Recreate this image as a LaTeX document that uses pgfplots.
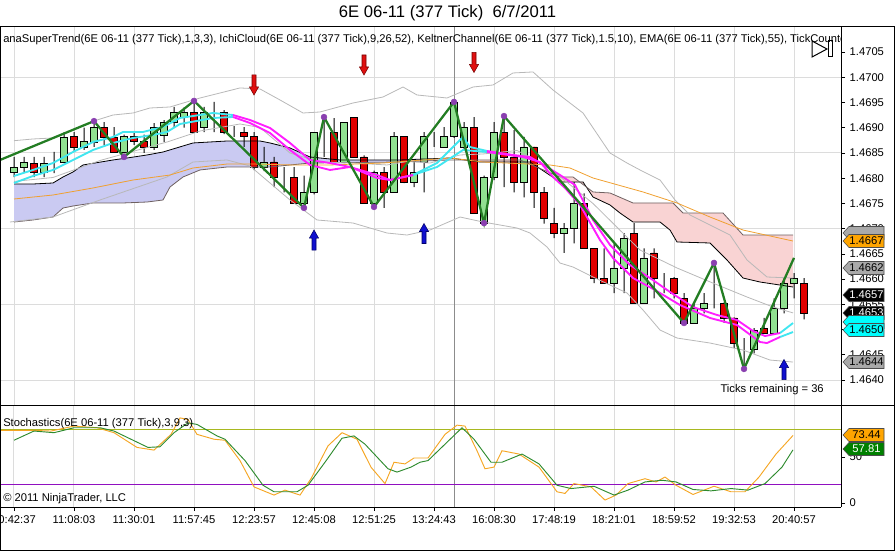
\documentclass[border=0pt]{standalone}
\usepackage{fontspec}
\setmainfont{Liberation Sans}
\usepackage{pgfplots}
\pgfplotsset{compat=1.18}
\usepackage{pgfplotstable}

\definecolor{gridc}{HTML}{DCDCDC}
\definecolor{cgreen}{HTML}{90E090}
\definecolor{cred}{HTML}{E00000}
\definecolor{zz}{HTML}{237D23}
\definecolor{cyanst}{HTML}{40E6F0}
\definecolor{magst}{HTML}{FF1EFF}
\definecolor{dotc}{HTML}{8A3FB0}
\definecolor{kelt}{HTML}{B8B8B8}
\definecolor{ema}{HTML}{F0A030}
\definecolor{lav}{HTML}{CACAF2}
\definecolor{pinkc}{HTML}{F9D3D3}
\definecolor{spanBc}{HTML}{6E6060}
\definecolor{stK}{HTML}{F5A623}
\definecolor{stD}{HTML}{2E8B2E}
\definecolor{obl}{HTML}{A8B820}
\definecolor{osl}{HTML}{9010C0}
\definecolor{tagorange}{HTML}{FFA500}
\definecolor{taggray}{HTML}{A9A9A9}
\definecolor{tagcyan}{HTML}{00FFFF}
\definecolor{taggreen}{HTML}{008000}
\definecolor{arrred}{HTML}{E01010}
\definecolor{arrblue}{HTML}{1010D0}

\pgfdeclareplotmark{dnarrow}{%
  \pgfpathmoveto{\pgfqpoint{-1.5pt}{7.5pt}}%
  \pgfpathlineto{\pgfqpoint{1.5pt}{7.5pt}}%
  \pgfpathlineto{\pgfqpoint{1.5pt}{-1.5pt}}%
  \pgfpathlineto{\pgfqpoint{3.4pt}{-1.5pt}}%
  \pgfpathlineto{\pgfqpoint{0pt}{-7.5pt}}%
  \pgfpathlineto{\pgfqpoint{-3.4pt}{-1.5pt}}%
  \pgfpathlineto{\pgfqpoint{-1.5pt}{-1.5pt}}%
  \pgfpathclose
  \pgfusepathqfillstroke
}
\pgfdeclareplotmark{uparrow}{%
  \pgfpathmoveto{\pgfqpoint{-1.5pt}{-7.5pt}}%
  \pgfpathlineto{\pgfqpoint{1.5pt}{-7.5pt}}%
  \pgfpathlineto{\pgfqpoint{1.5pt}{1.5pt}}%
  \pgfpathlineto{\pgfqpoint{3.4pt}{1.5pt}}%
  \pgfpathlineto{\pgfqpoint{0pt}{7.5pt}}%
  \pgfpathlineto{\pgfqpoint{-3.4pt}{1.5pt}}%
  \pgfpathlineto{\pgfqpoint{-1.5pt}{1.5pt}}%
  \pgfpathclose
  \pgfusepathqfillstroke
}

\newcommand\sm{\fontsize{8.4}{10}\selectfont}

\pgfplotsset{
  mainax/.style={scale only axis, width=630.75pt, height=283.5pt,
    at={(0pt,-303.75pt)}, anchor=south west,
    xmin=-1.4, xmax=82.7, ymin=1.463505, ymax=1.470995, enlargelimits=false},
}

\pgfplotstableread{
i O H L C
0 1.46811 1.46842 1.46802 1.46821
1 1.46821 1.46842 1.46812 1.46831
2 1.46830 1.46842 1.46802 1.46811
3 1.46812 1.46842 1.46802 1.46830
4 1.46825 1.46852 1.46810 1.46825
5 1.46831 1.46891 1.46830 1.46881
6 1.46882 1.46891 1.46852 1.46862
7 1.46862 1.46900 1.46856 1.46872
8 1.46870 1.46913 1.46862 1.46901
9 1.46901 1.46911 1.46866 1.46881
10 1.46880 1.46901 1.46850 1.46852
11 1.46852 1.46886 1.46842 1.46882
12 1.46882 1.46891 1.46866 1.46872
13 1.46872 1.46886 1.46850 1.46862
14 1.46862 1.46909 1.46856 1.46901
15 1.46885 1.46915 1.46872 1.46911
16 1.46911 1.46941 1.46901 1.46931
17 1.46921 1.46940 1.46900 1.46931
18 1.46931 1.46953 1.46890 1.46891
19 1.46901 1.46941 1.46891 1.46931
20 1.46925 1.46951 1.46891 1.46925
21 1.46931 1.46935 1.46887 1.46891
22 1.46891 1.46903 1.46882 1.46891
23 1.46891 1.46901 1.46862 1.46882
24 1.46882 1.46891 1.46816 1.46822
25 1.46822 1.46862 1.46814 1.46832
26 1.46832 1.46842 1.46782 1.46802
27 1.46802 1.46822 1.46772 1.46802
28 1.46802 1.46822 1.46750 1.46750
29 1.46750 1.46805 1.46741 1.46772
30 1.46772 1.46891 1.46768 1.46891
31 1.46891 1.46921 1.46842 1.46891
32 1.46891 1.46919 1.46830 1.46832
33 1.46832 1.46911 1.46830 1.46911
34 1.46921 1.46921 1.46840 1.46842
35 1.46842 1.46845 1.46750 1.46750
36 1.46750 1.46815 1.46743 1.46812
37 1.46812 1.46822 1.46741 1.46772
38 1.46772 1.46891 1.46772 1.46882
39 1.46882 1.46882 1.46790 1.46792
40 1.46792 1.46832 1.46782 1.46812
41 1.46832 1.46891 1.46772 1.46882
42 1.46872 1.46891 1.46862 1.46872
43 1.46862 1.46901 1.46862 1.46882
44 1.46882 1.46951 1.46880 1.46951
45 1.46862 1.46911 1.46858 1.46901
46 1.46901 1.46921 1.46730 1.46731
47 1.46711 1.46805 1.46711 1.46802
48 1.46802 1.46911 1.46796 1.46891
49 1.46891 1.46923 1.46782 1.46842
50 1.46842 1.46895 1.46772 1.46792
51 1.46792 1.46882 1.46762 1.46862
52 1.46862 1.46862 1.46741 1.46772
53 1.46772 1.46782 1.46710 1.46721
54 1.46711 1.46741 1.46681 1.46691
55 1.46691 1.46711 1.46652 1.46701
56 1.46701 1.46792 1.46671 1.46750
57 1.46750 1.46770 1.46661 1.46661
58 1.46661 1.46661 1.46592 1.46602
59 1.46602 1.46661 1.46592 1.46592
60 1.46592 1.46671 1.46572 1.46622
61 1.46622 1.46691 1.46572 1.46681
62 1.46691 1.46711 1.46552 1.46552
63 1.46552 1.46661 1.46552 1.46642
64 1.46652 1.46661 1.46562 1.46602
65 1.46602 1.46612 1.46572 1.46602
66 1.46602 1.46604 1.46562 1.46572
67 1.46562 1.46572 1.46513 1.46513
68 1.46513 1.46552 1.46513 1.46543
69 1.46542 1.46572 1.46532 1.46552
70 1.46552 1.46632 1.46542 1.46552
71 1.46552 1.46554 1.46513 1.46523
72 1.46523 1.46524 1.46463 1.46473
73 1.46461 1.46483 1.46422 1.46461
74 1.46461 1.46503 1.46453 1.46499
75 1.46503 1.46523 1.46492 1.46493
76 1.46493 1.46562 1.46492 1.46543
77 1.46543 1.46602 1.46532 1.46592
78 1.46592 1.46612 1.46562 1.46602
79 1.46592 1.46602 1.46520 1.46532
}\candles

\pgfplotstableread{
x y
0 1.467884
1.9 1.467884
3.9 1.467904
4.9 1.468023
5.9 1.468122
6.9 1.468261
9.9 1.468360
11.3 1.468399
13.3 1.468459
14.9 1.468518
17.9 1.468697
21.3 1.468736
24.6 1.468736
25.6 1.468697
27.6 1.468598
29.6 1.468419
32.6 1.468360
38.6 1.468360
43.6 1.468399
46.6 1.468320
51.6 1.468320
54.6 1.467924
56.9 1.467924
57.9 1.467626
59.6 1.467468
60.6 1.467309
61.9 1.467131
64.6 1.467131
65.6 1.466972
66.3 1.466735
69.6 1.466715
71.3 1.466378
72.9 1.466021
74.6 1.465942
77.9 1.465843
}\spanA

\pgfplotstableread{
x y
0 1.467131
1.9 1.467171
3.9 1.467230
4.9 1.467408
5.9 1.467448
7.9 1.467508
10.9 1.467508
13.3 1.467527
14.9 1.467567
15.6 1.467825
16.9 1.468023
18.6 1.468162
21.3 1.468221
25.6 1.468221
29.6 1.468300
38.6 1.468320
43.6 1.468360
50.6 1.468360
54.6 1.468023
55.9 1.468023
57.9 1.467726
59.6 1.467706
61.9 1.467508
65.9 1.467508
66.9 1.467309
70.9 1.467309
72.9 1.466873
77.9 1.466873
}\spanB

\begin{document}
\begin{tikzpicture}
\useasboundingbox (0,0) rectangle (671.25pt,-414pt);

% ---------- background: grid + cloud fill ----------
\begin{axis}[mainax, axis line style={draw=none},
  xtick={0,6,...,78}, xticklabels={},
  ytick={1.4640,1.4655,1.4670,1.4685,1.4700}, yticklabels={},
  grid=major, major grid style={gridc, line width=0.75pt},
  major tick length=0pt]
\addplot[fill=lav, draw=none] coordinates {(0,1.467884) (1.9,1.467884) (3.9,1.467904) (4.9,1.468023) (5.9,1.468122) (6.9,1.468261) (9.9,1.468360) (11.3,1.468399) (13.3,1.468459) (14.9,1.468518) (17.9,1.468697) (21.3,1.468736) (24.6,1.468736) (25.6,1.468697) (27.6,1.468598) (29.6,1.468419) (32.6,1.468360) (38.6,1.468360) (43.6,1.468399) (43.6,1.468360) (38.6,1.468320) (29.6,1.468300) (25.6,1.468221) (21.3,1.468221) (18.6,1.468162) (16.9,1.468023) (15.6,1.467825) (14.9,1.467567) (13.3,1.467527) (10.9,1.467508) (7.9,1.467508) (5.9,1.467448) (4.9,1.467408) (3.9,1.467230) (1.9,1.467171) (0,1.467131)} -- cycle;
\addplot[fill=pinkc, draw=none] coordinates {(46.6,1.468360) (50.6,1.468360) (54.6,1.468023) (55.9,1.468023) (57.9,1.467726) (59.6,1.467706) (61.9,1.467508) (65.9,1.467508) (66.9,1.467309) (70.9,1.467309) (72.9,1.466873) (77.9,1.466873) (77.9,1.465843) (74.6,1.465942) (72.9,1.466021) (71.3,1.466378) (69.6,1.466715) (66.3,1.466735) (65.6,1.466972) (64.6,1.467131) (61.9,1.467131) (60.6,1.467309) (59.6,1.467468) (57.9,1.467626) (56.9,1.467924) (54.6,1.467924) (51.6,1.468320) (46.6,1.468320)} -- cycle;
\addplot[black!45, line width=0.75pt] coordinates {(44,1.463505) (44,1.470995)};
\end{axis}

% ---------- wicks ----------
\begin{axis}[mainax, hide axis, ybar stacked, bar width=0.1]
\addplot[draw=none, fill=none] table[x=i, y=L] {\candles};
\addplot[draw=none, fill=black] table[x=i, y expr=\thisrow{H}-\thisrow{L}] {\candles};
\end{axis}

% ---------- bodies ----------
\begin{axis}[mainax, hide axis, ybar stacked, bar width=0.64]
\addplot[draw=none, fill=none] table[x=i, y expr={min(\thisrow{O},\thisrow{C})}] {\candles};
\addplot[draw=black, fill=cgreen, line width=0.5pt] table[x=i, y expr={max(\thisrow{C}-\thisrow{O},0)}] {\candles};
\addplot[draw=black, fill=cred, line width=0.5pt] table[x=i, y expr={max(\thisrow{O}-\thisrow{C},0)}] {\candles};
\end{axis}

% ---------- overlays ----------
\begin{axis}[mainax, axis line style={draw=none}, xtick=\empty,
  ytick={1.4640,1.4645,1.4650,1.4655,1.4660,1.4665,1.4670,1.4675,1.4680,1.4685,1.4690,1.4695,1.4700,1.4705},
  yticklabels={1.4640,1.4645,1.4650,1.4655,1.4660,1.4665,1.4670,1.4675,1.4680,1.4685,1.4690,1.4695,1.4700,1.4705},
  ytick pos=right, yticklabel pos=right, tick align=outside, major tick length=3pt,
  yticklabel style={font=\sm}, ytick style={black, line width=0.5pt}]
% cloud lines
\addplot[black, line width=0.6pt] table {\spanA};
\addplot[spanBc, line width=0.6pt] table {\spanB};
% Keltner
\addplot[kelt, line width=0.6pt] coordinates {(0,1.468742) (1.9,1.468776) (3.9,1.468796) (8.3,1.469152) (9.9,1.469251) (11.9,1.469291) (13.6,1.469390) (15.6,1.469410) (18.6,1.469588) (22.6,1.469787) (24.6,1.469767) (26.6,1.469549) (28.9,1.469291) (30.6,1.469311) (33.9,1.469489) (36.9,1.469608) (38.9,1.469806) (40.3,1.469648) (43.3,1.469588) (45.9,1.469806) (47.9,1.469846) (49.9,1.470084) (51.9,1.470104) (53.9,1.469747) (56.9,1.469291) (59.6,1.468498) (61.3,1.468300) (62.6,1.468162) (64.6,1.467963) (66.1,1.467567) (67.6,1.467270) (69.6,1.467072) (71.6,1.466873) (73.3,1.466378) (75.3,1.466041) (77.9,1.466021)};
\addplot[kelt, line width=0.6pt] coordinates {(0,1.467935) (3.9,1.468013) (8.6,1.468350) (15.3,1.468716) (18.6,1.468934) (22.6,1.469073) (24.6,1.469004) (27.6,1.468498) (30.6,1.468320) (33.9,1.468300) (37.3,1.468261) (39.3,1.468330) (41.6,1.468300) (44.6,1.468459) (46.9,1.468479) (50.3,1.468548) (53.3,1.468241) (57.9,1.467498) (62.6,1.466576) (66.3,1.466220) (69.9,1.465920) (73.3,1.465645) (75.9,1.465447) (77.9,1.465330)};
\addplot[kelt, line width=0.6pt] coordinates {(-0.4,1.467131) (3.9,1.467230) (8.6,1.467567) (15.3,1.468023) (17.9,1.468320) (21.3,1.468360) (23.6,1.468240) (27.6,1.467567) (30.3,1.467171) (33.9,1.467111) (37.3,1.466913) (39.3,1.466873) (41.6,1.466972) (44.6,1.467230) (46.9,1.467131) (50.3,1.467012) (51.6,1.466913) (53.3,1.466636) (54.6,1.466318) (55.9,1.466239) (57.9,1.466041) (61.3,1.465724) (62.9,1.465387) (64.6,1.464991) (66.3,1.464832) (69.6,1.464733) (72.9,1.464594) (75.6,1.464396) (77.9,1.464356)};
% EMA
\addplot[ema, line width=0.6pt] coordinates {(0,1.467587) (3.9,1.467666) (7.9,1.467805) (11.9,1.467963) (15.6,1.468062) (17.9,1.468201) (21.3,1.468280) (23.9,1.468280) (27.9,1.468261) (31.6,1.468261) (36.9,1.468300) (43.6,1.468399) (46.9,1.468320) (53.6,1.468261) (55.6,1.468201) (57.9,1.468003) (62.9,1.467726) (66.3,1.467508) (69.6,1.467230) (72.9,1.466972) (77.9,1.466754)};
% SuperTrend
\addplot[cyanst, line width=1.4pt] coordinates {(0,1.468043) (1.9,1.468162) (3.9,1.468300) (5.9,1.468518) (7.9,1.468716) (9.9,1.468815) (10.9,1.468915) (12.9,1.468915) (14.9,1.469014) (16.6,1.469192) (19.9,1.469291) (21.9,1.469251)};
\addplot[cyanst, line width=1.4pt] coordinates {(0,1.467904) (1.9,1.468043) (3.9,1.468162) (5.9,1.468360) (7.9,1.468558) (9.9,1.468697) (11.9,1.468796) (13.9,1.468855) (15.3,1.468915) (16.6,1.469073) (19.9,1.469192) (21.9,1.469212)};
\addplot[cyanst, line width=1.4pt] coordinates {(39.9,1.468062) (42.3,1.468300) (44.3,1.468697) (44.9,1.468815) (45.6,1.468617) (47.3,1.468538)};
\addplot[cyanst, line width=1.4pt] coordinates {(39.9,1.468062) (42.3,1.468221) (44.9,1.468558) (47.3,1.468518)};
\addplot[cyanst, line width=1.4pt] coordinates {(76.6,1.464931) (77.9,1.465129)};
\addplot[cyanst, line width=1.4pt] coordinates {(76.6,1.464852) (77.9,1.464951)};
\addplot[magst, line width=1.4pt] coordinates {(21.9,1.469251) (23.6,1.469152) (25.6,1.468994) (27.6,1.468697) (29.6,1.468360) (31.6,1.468300) (33.6,1.468221) (36.3,1.468062) (37.6,1.467963) (39.9,1.468062)};
\addplot[magst, line width=1.4pt] coordinates {(21.9,1.469212) (23.6,1.469093) (25.6,1.468895) (27.6,1.468558) (29.6,1.468261) (31.6,1.468162) (33.6,1.468221) (36.3,1.468003) (37.6,1.467963) (39.9,1.468062)};
\addplot[magst, line width=1.4pt] coordinates {(47.3,1.468538) (49.9,1.468459) (51.6,1.468419) (53.3,1.468221) (54.6,1.468062) (56.1,1.467864) (57.9,1.467171) (59.6,1.466675) (61.6,1.466279) (63.6,1.466021) (65.6,1.465744) (67.9,1.465447) (70.3,1.465288) (72.3,1.465189) (73.9,1.464971) (75.1,1.464872) (76.6,1.464931)};
\addplot[magst, line width=1.4pt] coordinates {(47.3,1.468518) (50.9,1.468419) (52.6,1.468320) (53.9,1.468023) (55.1,1.467805) (56.6,1.467468) (58.6,1.466774) (59.9,1.466418) (61.9,1.466021) (64.1,1.465783) (66.6,1.465486) (69.6,1.465229) (72.3,1.465090) (74.6,1.464753) (75.3,1.464733) (76.6,1.464852)};
% zigzag
\addplot[zz, line width=1.7pt] coordinates {(-1.4,1.468360) (8,1.469130) (11,1.468420) (18,1.469530) (29,1.467410) (31,1.469210) (36,1.467430) (44,1.469510) (47,1.467110) (49,1.469230) (67,1.465130) (70,1.466320) (73,1.464220) (78,1.466420)};
\addplot[only marks, mark=*, mark size=2.2pt, mark options={fill=dotc, draw=dotc}] coordinates {(8,1.469130) (11,1.468420) (18,1.469530) (29,1.467410) (31,1.469210) (36,1.467430) (44,1.469510) (47,1.467110) (49,1.469230) (67,1.465130) (70,1.466320) (73,1.464220)};
% arrows
\addplot[only marks, mark=dnarrow, mark options={fill=arrred, draw=red!45!black, line width=0.4pt}] coordinates {(24,1.469846) (35,1.470242) (46,1.470292)};
\addplot[only marks, mark=uparrow, mark options={fill=arrblue, draw=blue!40!black, line width=0.4pt}] coordinates {(30,1.466774) (41,1.466903) (77,1.464208)};
\end{axis}

% ---------- stochastics ----------
\begin{axis}[scale only axis, width=630.75pt, height=76.5pt,
  at={(0pt,-380.25pt)}, anchor=south west,
  xmin=-1.4, xmax=82.7, ymin=-4.35, ymax=106.5, enlargelimits=false,
  axis line style={draw=none},
  xtick={0,6,...,78},
  xticklabels={10:42:37,11:08:03,11:30:01,11:57:45,12:23:57,12:45:08,12:51:25,13:24:43,16:08:30,17:48:19,18:21:01,18:59:52,19:32:53,20:40:57},
  xmajorgrids, major grid style={gridc, line width=0.75pt},
  xtick pos=left, xticklabel pos=left,
  ytick={0,50}, yticklabels={0,50}, ytick pos=right, yticklabel pos=right,
  tick align=outside, major tick length=3pt,
  ticklabel style={font=\sm}, tick style={black, line width=0.5pt}]
\addplot[black!45, line width=0.75pt] coordinates {(44,-4.35) (44,106.5)};
\addplot[obl, line width=0.75pt] coordinates {(-1.4,80) (82.7,80)};
\addplot[osl, line width=0.75pt] coordinates {(-1.4,20) (82.7,20)};
\addplot[stK, line width=0.7pt] coordinates {(-1.4,78.9) (2.0,78.9) (3.7,78.2) (6.0,83.6) (8.3,81.8) (10.0,76.4) (12.3,60.4) (14.0,57.5) (15.7,74.6) (16.6,92.5) (17.4,90.7) (18.3,74.6) (20.0,69.3) (21.1,68.2) (22.6,46.1) (24.0,17.5) (26.0,8.6) (27.1,14.0) (28.6,8.6) (29.7,26.4) (31.4,62.1) (32.8,76.4) (34.3,69.3) (35.7,38.9) (37.1,21.1) (38.0,44.3) (39.1,42.5) (40.0,48.9) (41.4,48.9) (43.1,74.6) (44.3,84.6) (45.1,83.6) (46.3,56.8) (47.1,37.2) (48.0,39.0) (48.8,56.8) (50.5,53.2) (52.5,39.0) (54.3,12.2) (55.1,10.4) (56.0,21.1) (57.7,17.5) (59.1,3.2) (60.2,8.6) (61.4,21.1) (63.1,26.4) (64.2,22.9) (65.1,28.2) (66.2,19.3) (67.9,9.3) (70.0,18.2) (71.7,12.2) (73.1,12.2) (74.5,28.2) (76.2,53.2) (77.9,73.4)};
\addplot[stD, line width=0.7pt] coordinates {(0.0,68.2) (2.0,78.2) (4.0,76.4) (6.0,81.8) (8.6,81.8) (10.0,78.2) (11.7,69.3) (13.4,60.4) (14.6,61.1) (16.0,76.4) (17.4,87.1) (18.3,85.4) (20.3,72.9) (21.1,69.3) (23.1,46.1) (24.9,19.3) (26.0,12.2) (28.3,12.2) (29.4,19.3) (31.1,44.3) (32.8,70.4) (34.0,72.9) (35.1,63.9) (37.4,37.2) (38.3,33.6) (39.7,39.0) (40.6,44.3) (41.4,46.1) (43.1,63.9) (44.8,81.8) (46.0,69.3) (47.7,44.3) (48.8,44.3) (50.8,53.2) (52.5,42.5) (54.3,19.3) (55.7,15.7) (58.0,18.2) (60.0,8.6) (61.4,14.0) (63.1,22.9) (64.8,24.7) (66.2,22.9) (67.9,14.7) (69.7,13.2) (71.7,15.7) (73.4,14.0) (75.1,21.1) (76.8,39.0) (77.9,57.8)};
\end{axis}

% ---------- texts, tags, frames (pixel units) ----------
\begin{scope}[x=0.75pt, y=-0.75pt]
\node[font=\fontsize{12.5}{14}\selectfont] at (447.5,13) {6E 06-11 (377 Tick) \ 6/7/2011};
\begin{scope}
\clip (0,27) rectangle (841,405);
\node[anchor=west, font=\sm, inner sep=0pt] at (3,40) {anaSuperTrend(6E 06-11 (377 Tick),1,3,3), IchiCloud(6E 06-11 (377 Tick),9,26,52), KeltnerChannel(6E 06-11 (377 Tick),1.5,10), EMA(6E 06-11 (377 Tick),55), TickCounter};
\end{scope}
\draw[line width=0.75pt] (812,41) -- (812,57) -- (827,49) -- cycle;
\draw[line width=0.75pt] (828,41) rectangle (832,57);
\node[anchor=east, font=\sm, inner sep=0pt] at (824,390) {Ticks remaining = 36};
\node[anchor=west, font=\sm, inner sep=0pt] at (3,424) {Stochastics(6E 06-11 (377 Tick),3,9,3)};
\node[anchor=west, font=\sm, inner sep=0pt] at (3,499) {© 2011 NinjaTrader, LLC};
% tags
\newcommand\pricetag[4]{%
  \draw[fill=#2, draw=black!70, line width=0.4pt] (843,#1) -- (849,#1-6.5) -- (884,#1-6.5) -- (884,#1+6.5) -- (849,#1+6.5) -- cycle;
  \node[text=#3, font=\sm, inner sep=0pt] at (866.5,#1) {#4};}
\newcommand\blanktag[2]{%
  \draw[fill=#2, draw=black!70, line width=0.4pt] (843,#1) -- (849,#1-6.5) -- (884,#1-6.5) -- (884,#1+6.5) -- (849,#1+6.5) -- cycle;}
\blanktag{233}{taggray}
\pricetag{241}{tagorange}{black}{1.4667}
\pricetag{268}{taggray}{black}{1.4662}
\pricetag{295}{black}{white}{1.4657}
\pricetag{313}{black}{white}{1.4653}
\blanktag{322}{tagcyan}
\pricetag{330}{tagcyan}{black}{1.4650}
\pricetag{362}{taggray}{black}{1.4644}
\pricetag{435}{tagorange}{black}{73.44}
\pricetag{449}{taggreen}{white}{57.81}
% frames
\draw[line width=0.75pt] (0,27) -- (895,27);
\draw[line width=0.75pt] (0,405) -- (895,405);
\draw[line width=0.75pt] (0,507) -- (841,507);
\draw[line width=0.75pt] (841,27) -- (841,507);
\draw[line width=0.75pt] (0.5,27) -- (0.5,551);
\draw[line width=0.75pt] (894.5,27) -- (894.5,551);
\draw[line width=0.75pt] (0,550.5) -- (895,550.5);
\end{scope}
\end{tikzpicture}
\end{document}
